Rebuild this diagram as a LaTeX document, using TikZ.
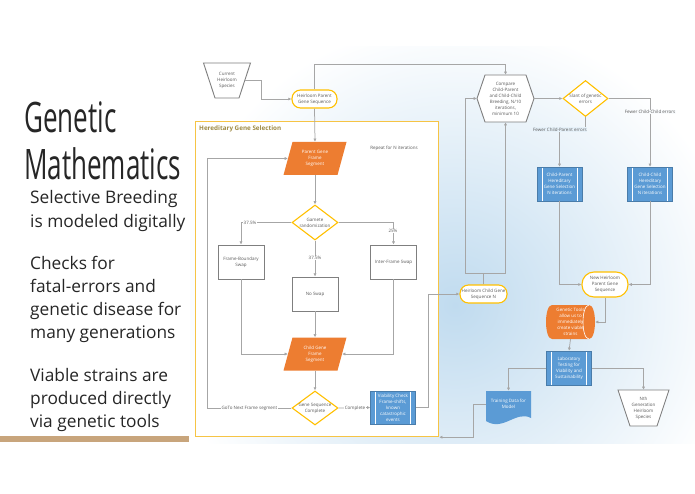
\documentclass[tikz,border=0pt]{standalone}
\usepackage{fontspec}
\setmainfont{Open Sans}
\newfontfamily\titlefont[FakeStretch=0.62]{Open Sans}
\usetikzlibrary{shapes.geometric,arrows.meta,calc}
\definecolor{lgray}{HTML}{A6A6A6}
\definecolor{dgray}{HTML}{7F7F7F}
\definecolor{tgray}{HTML}{595959}
\definecolor{vorange}{HTML}{ED7D31}
\definecolor{vblue}{HTML}{5B9BD5}
\definecolor{vyellow}{HTML}{FFC000}
\definecolor{cyellow}{HTML}{F6C445}
\definecolor{ctitle}{HTML}{9E8A45}
\definecolor{bgblue}{RGB}{192,219,239}
\definecolor{tanbar}{HTML}{C8A57C}
\definecolor{bodytext}{HTML}{262626}
% parallelogram centred at (#1,#2)
\newcommand{\myparal}[2]{\fill[vorange] ($(#1,#2)+(-31.5,16.5)$) -- ($(#1,#2)+(-22.5,-16.5)$) -- ($(#1,#2)+(31.5,-16.5)$) -- ($(#1,#2)+(22.5,16.5)$) -- cycle;}
% manual operation trapezoid centred at (#1,#2): half top width #3, half bottom width #4, half height #5
\newcommand{\mytrap}[5]{\filldraw[draw=dgray, fill=white, line width=0.9pt] ($(#1,#2)+(-#3,-#5)$) -- ($(#1,#2)+(#3,-#5)$) -- ($(#1,#2)+(#4,#5)$) -- ($(#1,#2)+(-#4,#5)$) -- cycle;}
\begin{document}
\begin{tikzpicture}[x=1pt,y=-1pt,
  conn/.style={draw=lgray, line width=0.75pt, -{Latex[length=3.2pt,width=3.2pt]}},
  plain/.style={draw=lgray, line width=0.75pt},
  small/.style={font=\fontsize{4.5}{6}\selectfont, text=tgray, align=center},
  wsmall/.style={font=\fontsize{4.5}{6}\selectfont, text=white, align=center},
  term/.style={small, draw=vyellow, line width=1.1pt, fill=white, rounded corners=8.5pt, inner sep=0pt},
  gbox/.style={small, draw=dgray, line width=0.9pt, fill=white, minimum width=46pt, minimum height=34pt, inner sep=0pt},
  dia/.style={diamond, draw=vyellow, line width=1.1pt, fill=white, minimum width=46pt, minimum height=35pt, inner sep=0pt},
  paranode/.style={wsmall, rectangle, minimum width=54pt, minimum height=33pt, inner sep=0pt},
  pproc/.style={wsmall, rectangle, fill=vblue, draw=vblue!80!black, line width=0.4pt, minimum width=45pt, minimum height=34pt, inner sep=0pt,
    path picture={\draw[white, line width=0.7pt] ([xshift=5pt]path picture bounding box.north west) -- ([xshift=5pt]path picture bounding box.south west) ([xshift=-5pt]path picture bounding box.north east) -- ([xshift=-5pt]path picture bounding box.south east);}},
  lab/.style={font=\fontsize{4.5}{6}\selectfont, text=tgray, fill=white, inner sep=0.6pt},
  bodyline/.style={anchor=base west, font=\fontsize{17.3}{20}\selectfont, text=bodytext, inner sep=0pt},
  titleline/.style={anchor=base west, font=\titlefont\fontsize{42}{47}\selectfont, text=bodytext, inner sep=0pt}
]
\useasboundingbox (0,0) rectangle (695,494);
\fill[white] (0,0) rectangle (695,494);
% background gradient
\begin{scope}
\clip (190,47) rectangle (695,443);
\shade[inner color=bgblue, outer color=white] (170,20) rectangle (740,590);
\end{scope}
% left text
\node[titleline] (t1) at (24,133) {Genetic};
\node[titleline] (t2) at (24,180) {Mathematics};
\foreach \txt/\yy [count=\i] in {Selective Breeding/204, is modeled digitally/228, Checks for/269, fatal-errors and/292, genetic disease for/315, many generations/338, Viable strains are/381, produced directly/404, via genetic tools/427}
  \node[bodyline] (b\i) at (30,\yy) {\txt};
\fill[tanbar] (0,436) rectangle (189,442);
% container
\node[draw=cyellow, fill=white, line width=1.2pt, minimum width=243pt, minimum height=315pt, inner sep=0pt, anchor=north west] (hgs) at (195,121) {};
\node[anchor=west, font=\bfseries\fontsize{6.3}{7}\selectfont, text=ctitle, inner sep=0pt] (hgst) at (199,129) {Hereditary Gene Selection};
% nodes
\mytrap{227}{80.5}{23.5}{12}{17.5}
\node[small, minimum width=35pt, minimum height=35pt, inner sep=0pt] (cur) at (227,80.5) {Current\\Heirloom\\Species};
\node[term, minimum width=45pt, minimum height=18pt] (hps) at (314.5,99) {Heirloom Parent\\Gene Sequence};
\node[small] (rep) at (394,148) {Repeat for N iterations};
\myparal{315}{158.5}
\node[paranode] (pgf) at (315,158.5) {Parent Gene\\Frame\\Segment};
\node[dia, label={[small]center:Gamete\\randomization}] (gam) at (315,222.5) {};
\node[gbox] (fbs) at (241,262) {Frame-Boundary\\Swap};
\node[gbox] (ifs) at (393.5,262) {Inter-Frame Swap};
\node[gbox] (nsw) at (315,294) {No Swap};
\myparal{315}{354}
\node[paranode] (cgf) at (315,354) {Child Gene\\Frame\\Segment};
\node[dia, minimum height=34pt, label={[small]center:Gene Sequence\\Complete}] (gsc) at (315,408) {};
\node[pproc, minimum height=33pt] (via) at (393,407.5) {Viability Check\\Frame-shifts,\\known\\catastrophic\\events};
\node[term, minimum width=47pt, minimum height=18pt] (hcs) at (483.5,294) {Heirloom Child Gene\\Sequence N};
\filldraw[draw=dgray, fill=white, line width=0.9pt] (477,98.5) -- (485,75) -- (526,75) -- (534,98.5) -- (526,122) -- (485,122) -- cycle;
\node[small, minimum width=57pt, minimum height=47pt, inner sep=0pt] (hex) at (505.5,98.5) {Compare\\Child-Parent\\and Child-Child\\Breeding, N/10\\iterations,\\minimum 10};
\node[dia, minimum width=45pt, minimum height=36pt, label={[small]center:Slant of genetic\\errors}] (sl) at (585.5,98.5) {};
\node[pproc] (cpb) at (559.5,184) {Child-Parent\\Hereditary\\Gene Selection\\N iterations};
\node[pproc] (ccb) at (650,184) {Child-Child\\Hereditary\\Gene Selection\\N iterations};
\node[term, minimum width=46pt, minimum height=25pt, rounded corners=12pt] (nhp) at (605,284.5) {New Heirloom\\Parent Gene\\Sequence};
% horizontal cylinder (direct data)
\fill[vorange] (552,305) -- (589,305) .. controls (597,305) and (597,339) .. (589,339) -- (552,339) .. controls (544,339) and (544,305) .. (552,305) -- cycle;
\draw[white, line width=0.6pt] (589,305) .. controls (581,305) and (581,339) .. (589,339);
\node[wsmall, minimum width=49pt, minimum height=34pt, inner sep=0pt] (gt) at (570.5,322) {Genetic Tools\\allow us to\\immediately\\create viable\\strains};
\node[pproc] (lab) at (569,368) {Laboratory\\Testing for\\Viability and\\Sustainability};
\fill[vblue] (486,391) -- (531,391) -- (531,418) .. controls (516,410) and (503,432) .. (486,421) -- cycle;
\node[wsmall, minimum width=45pt, minimum height=26pt, inner sep=0pt] (td) at (508.5,404) {Training Data for\\Model};
\mytrap{643.5}{408}{25.5}{13.5}{18}
\node[small, minimum width=39pt, minimum height=36pt, inner sep=0pt] (nth) at (643.5,408) {Nth\\Generation\\Heirloom\\Species};
% connectors
\draw[conn] (cur.east) -- (261,80.5) |- (hps.west);
\draw[conn] (hps.north) -- (314.5,64) -| (hex.north);
\draw[conn] (hps.south) -- (pgf.north);
\draw[conn] (pgf.south) -- (gam.north);
\draw[conn] (gam.west) -| (fbs.north);
\draw[conn] (gam.east) -| (ifs.north);
\draw[conn] (gam.south) -- (nsw.north);
\draw[conn] (nsw.south) -- (cgf.north);
\draw[conn] (fbs.south) |- (cgf.west);
\draw[conn] (ifs.south) |- (cgf.east);
\draw[conn] (cgf.south) -- (gsc.north);
\draw[conn] (gsc.west) -- (207,408) |- (pgf.west);
\draw[conn] (gsc.east) -- (via.west);
\draw[conn] (via.east) -- (428,407.5) |- (hcs.west);
\coordinate (jn) at (483.5,273);
\draw[plain] (hcs.north) -- (jn);
\draw[conn] (jn) -| (hex.south);
\draw[conn] (jn) -- (465,273) |- (hex.west);
\draw[conn] (hex.east) -- (sl.west);
\draw[conn] (sl.south) -- ++(0,13) -| (cpb.north);
\draw[conn] (sl.east) -| (ccb.north);
\draw[conn] (cpb.south) |- (nhp.west);
\draw[conn] (ccb.south) |- (nhp.east);
\draw[conn] (nhp.south) |- (gt.east);
\draw[conn] (gt.south) -- (lab.north);
\draw[conn] (lab.west) -| (td.north);
\draw[conn] (lab.east) -| (nth.north);
\draw[conn] (td.west) -- (473,404) |- (hgs.south east);
% connector labels
\node[lab] (l1) at (250,222.5) {37.5\%};
\node[lab] (l2) at (393,231) {25\%};
\node[lab] (l3) at (315,258) {37.5\%};
\node[lab] (l4) at (249.5,408) {GoTo Next Frame segment};
\node[lab] (l5) at (355,408) {Complete};
\node[lab, fill=bgblue!40!white] (l6) at (560,129.5) {Fewer Child-Parent errors};
\node[lab, fill=bgblue!10!white] (l7) at (650,112) {Fewer Child-Child errors};
\end{tikzpicture}
\end{document}
